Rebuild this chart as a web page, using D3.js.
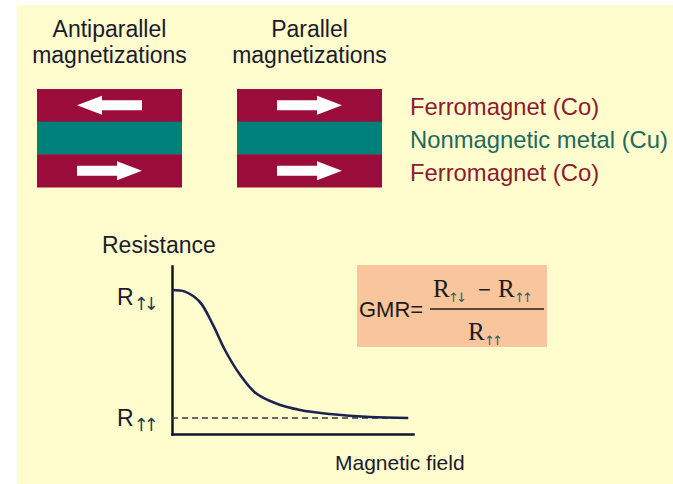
<!DOCTYPE html>
<html>
<head>
<meta charset="utf-8">
<script src="https://cdn.jsdelivr.net/npm/d3@7/dist/d3.min.js"></script>
<style>
  html, body { margin: 0; padding: 0; background: #ffffff; }
  svg { display: block; }
</style>
</head>
<body>
<div id="chart"></div>
<script>
// ---------- data ----------
const configNames = ["Antiparallel", "Parallel"];
const configSubtitle = ["magnetizations", "magnetizations"];
const topArrowDir = [-1, 1];      // -1 = left, +1 = right
const bottomArrowDir = [1, 1];

const layerNames = ["Ferromagnet (Co)", "Nonmagnetic metal (Cu)", "Ferromagnet (Co)"];
const layerFills = ["#9a0d3b", "#00807a", "#9a0d3b"];
const layerTextColors = ["#8c1b2e", "#1e6a5c", "#8c1b2e"];

const fieldValues      = [0, 0.55, 1.18, 1.74, 2.24, 2.88, 3.51, 4.36, 5.42, 6.69, 8.38, 10];
const resistanceValues = [1.80, 1.79, 1.725, 1.58, 1.425, 1.27, 1.16, 1.094, 1.05, 1.025, 1.006, 1.0];

const yTickValues = [1.8, 1.0];
const yTickBase = ["R", "R"];
const yTickSubs = ["\u2191\u2193", "\u2191\u2191"];
const yAxisTitle = "Resistance";
const xAxisTitle = "Magnetic field";
const saturationValue = 1.0;

// ---------- layout ----------
const W = 673, H = 484;
const svg = d3.select("#chart").append("svg").attr("width", W).attr("height", H);
const SANS = "'Liberation Sans', Arial, Helvetica, sans-serif";
const SERIF = "'Liberation Serif', 'Times New Roman', serif";
const ARROWS = "'DejaVu Sans', sans-serif";
const textDark = "#1b1b2b";

svg.append("rect").attr("x", 17).attr("y", 5).attr("width", W - 17).attr("height", H - 5)
  .attr("fill", "#fffccd");

// ---------- stacks ----------
const boxX = d3.scaleBand().domain(configNames).range([37, 382]).paddingInner(0.275);
const layerY = d3.scaleBand().domain(d3.range(layerNames.length)).range([89, 187]);

const cfg = svg.selectAll("g.cfg").data(configNames).join("g").attr("class", "cfg")
  .attr("transform", d => `translate(${boxX(d)},0)`);

cfg.append("text")
  .attr("x", boxX.bandwidth() / 2).attr("y", 37)
  .attr("text-anchor", "middle").attr("font-family", SANS).attr("font-size", 23)
  .attr("fill", textDark).text(d => d);
cfg.append("text")
  .attr("x", boxX.bandwidth() / 2).attr("y", 63)
  .attr("text-anchor", "middle").attr("font-family", SANS).attr("font-size", 23)
  .attr("fill", textDark).text((d, i) => configSubtitle[i]);

cfg.selectAll("rect.layer").data(layerFills).join("rect").attr("class", "layer")
  .attr("x", 0).attr("width", boxX.bandwidth())
  .attr("y", (d, i) => layerY(i)).attr("height", layerY.bandwidth() + 0.5)
  .attr("fill", d => d);

function arrowPath(cx, cy, dir) {
  const L = 65, head = 25, sh = 5, hh = 9.5;
  const tail = cx - dir * L / 2, tip = cx + dir * L / 2, neck = tip - dir * head;
  return `M${tail},${cy - sh}L${neck},${cy - sh}L${neck},${cy - hh}L${tip},${cy}` +
         `L${neck},${cy + hh}L${neck},${cy + sh}L${tail},${cy + sh}Z`;
}
cfg.append("path")
  .attr("d", (d, i) => arrowPath(boxX.bandwidth() / 2, layerY(0) + layerY.bandwidth() / 2, topArrowDir[i]))
  .attr("fill", "#ffffff");
cfg.append("path")
  .attr("d", (d, i) => arrowPath(boxX.bandwidth() / 2, layerY(2) + layerY.bandwidth() / 2, bottomArrowDir[i]))
  .attr("fill", "#ffffff");

svg.selectAll("text.layerName").data(layerNames).join("text").attr("class", "layerName")
  .attr("x", 410).attr("y", (d, i) => layerY(i) + layerY.bandwidth() / 2 + 10)
  .attr("font-family", SANS).attr("font-size", 23.8)
  .attr("fill", (d, i) => layerTextColors[i]).text(d => d);

// ---------- chart ----------
const x = d3.scaleLinear().domain([0, 10.2]).range([172, 413]);
const y = d3.scaleLinear().domain([0.9, 1.95]).range([434, 266]);
const axisColor = "#15152a";

const gx = svg.append("g").attr("transform", `translate(0,${y(0.9)})`)
  .call(d3.axisBottom(x).tickValues([]).tickSizeOuter(0));
const gy = svg.append("g").attr("transform", `translate(${x(0)},0)`)
  .call(d3.axisLeft(y).tickValues([]).tickSizeOuter(0));
[gx, gy].forEach(g => g.select(".domain").attr("stroke", axisColor).attr("stroke-width", 2.5)
  .attr("stroke-linecap", "square"));

svg.append("line")
  .attr("x1", x(0)).attr("x2", x(10)).attr("y1", y(saturationValue)).attr("y2", y(saturationValue))
  .attr("stroke", "#3a3a44").attr("stroke-width", 1.7).attr("stroke-dasharray", "6,4");

const line = d3.line().x((d, i) => x(fieldValues[i])).y(d => y(d)).curve(d3.curveCatmullRom.alpha(0.5));
svg.append("path").datum(resistanceValues).attr("d", line)
  .attr("fill", "none").attr("stroke", "#1b2352").attr("stroke-width", 2.6);

const lab = svg.selectAll("text.ytick").data(yTickValues).join("text").attr("class", "ytick")
  .attr("x", 117).attr("y", (d, i) => y(d) + (i === 0 ? 15 : 8))
  .attr("font-family", SANS).attr("font-size", 23).attr("fill", textDark);
lab.append("tspan").text((d, i) => yTickBase[i]);
lab.append("tspan").attr("dy", 5).attr("dx", 0).attr("font-family", ARROWS).attr("font-size", 18)
  .attr("letter-spacing", -5).attr("fill", "#1f3e50")
  .text((d, i) => yTickSubs[i]);

svg.append("text").attr("x", 102).attr("y", 253).attr("font-family", SANS).attr("font-size", 23)
  .attr("fill", textDark).text(yAxisTitle);
svg.append("text").attr("x", 335).attr("y", 470).attr("font-family", SANS).attr("font-size", 21)
  .attr("fill", textDark).text(xAxisTitle);

// ---------- formula ----------
const fg = svg.append("g");
fg.append("rect").attr("x", 357).attr("y", 265).attr("width", 190).attr("height", 82)
  .attr("fill", "#f9c59c");
fg.append("text").attr("x", 359).attr("y", 317).attr("font-family", SANS).attr("font-size", 22)
  .attr("fill", "#1b1b1b").text("GMR=");
fg.append("line").attr("x1", 430).attr("x2", 544).attr("y1", 309).attr("y2", 309)
  .attr("stroke", "#222").attr("stroke-width", 1.6);

const subColor = "#2a6060";
function fracPiece(px, py, txt, opts) {
  fg.append("text").attr("x", px).attr("y", py)
    .attr("font-family", opts.font).attr("font-size", opts.size)
    .attr("letter-spacing", opts.ls || 0)
    .attr("fill", opts.color || "#1b1b1b").text(txt);
}
const big = { font: SERIF, size: 25 };
const sub = { font: ARROWS, size: 13, color: subColor, ls: -3 };
fracPiece(433, 297, yTickBase[0], big);
fracPiece(448, 302, yTickSubs[0], sub);
fracPiece(478, 297, "\u2212", { font: SANS, size: 22 });
fracPiece(498, 297, yTickBase[1], big);
fracPiece(514, 302, yTickSubs[1], sub);
fracPiece(468, 340, yTickBase[1], big);
fracPiece(484, 345, yTickSubs[1], sub);
</script>
</body>
</html>
